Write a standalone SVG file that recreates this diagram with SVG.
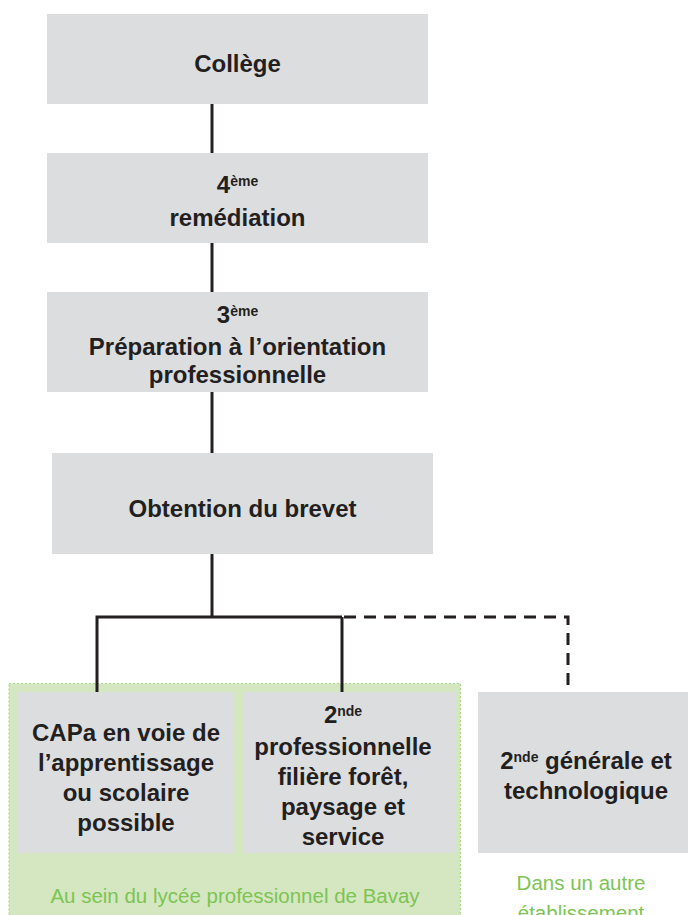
<svg xmlns="http://www.w3.org/2000/svg" width="688" height="915" viewBox="0 0 688 915">
<style>
.box{fill:#dcdddf}
.t{font-family:"Liberation Sans",Arial,sans-serif;font-weight:bold;font-size:24px;fill:#231f20;text-anchor:middle}
.sup{font-size:14px}
.g{font-family:"Liberation Sans",Arial,sans-serif;font-size:20.5px;fill:#7cc453;text-anchor:middle}
.ln{stroke:#231f20;stroke-width:3;fill:none}
.dash{stroke:#231f20;stroke-width:3;fill:none;stroke-dasharray:12 8}
</style>
<rect width="688" height="915" fill="#ffffff"/>
<g id="zone-lycee">
<rect x="9" y="683.5" width="451.5" height="240" fill="#d4e7c1" stroke="#a9d68c" stroke-width="1.2" stroke-dasharray="2 2"/>
<text class="g" x="235" y="903">Au sein du lycée professionnel de Bavay</text>
</g>
<g id="zone-autre">
<text class="g" x="581" y="890">Dans un autre</text>
<text class="g" x="581" y="920">établissement</text>
</g>
<g id="connectors">
<line class="ln" x1="212" y1="104" x2="212" y2="153"/>
<line class="ln" x1="212" y1="243" x2="212" y2="292"/>
<line class="ln" x1="212" y1="392" x2="212" y2="453"/>
<line class="ln" x1="212" y1="554" x2="212" y2="617"/>
<polyline class="ln" points="97,692 97,617 342,617"/>
<line class="ln" x1="342" y1="617" x2="342" y2="692"/>
<polyline class="dash" points="344,617 568,617 568,692"/>
</g>
<g id="college">
<rect class="box" x="47" y="14" width="381" height="90"/>
<text class="t" x="237.5" y="72">Collège</text>
</g>
<g id="quatrieme">
<rect class="box" x="47" y="153" width="381" height="90"/>
<text class="t" x="237.5" y="193">4<tspan class="sup" dy="-7">ème</tspan></text>
<text class="t" x="237.5" y="226">remédiation</text>
</g>
<g id="troisieme">
<rect class="box" x="47" y="292" width="381" height="100"/>
<text class="t" x="237.5" y="323">3<tspan class="sup" dy="-7">ème</tspan></text>
<text class="t" x="237.5" y="355">Préparation à l’orientation</text>
<text class="t" x="237.5" y="383">professionnelle</text>
</g>
<g id="brevet">
<rect class="box" x="52" y="453" width="381" height="101"/>
<text class="t" x="242.5" y="517">Obtention du brevet</text>
</g>
<g id="capa">
<rect class="box" x="17.5" y="692" width="215.5" height="161"/>
<text class="t" x="126" y="741">CAPa en voie de</text>
<text class="t" x="126" y="771">l’apprentissage</text>
<text class="t" x="126" y="801">ou scolaire</text>
<text class="t" x="126" y="831">possible</text>
</g>
<g id="seconde-pro">
<rect class="box" x="243.5" y="692" width="211.5" height="161"/>
<text class="t" x="343" y="723">2<tspan class="sup" dy="-7">nde</tspan></text>
<text class="t" x="343" y="755">professionnelle</text>
<text class="t" x="343" y="785">filière forêt,</text>
<text class="t" x="343" y="815">paysage et</text>
<text class="t" x="343" y="845">service</text>
</g>
<g id="seconde-gt">
<rect class="box" x="478" y="692" width="215" height="161"/>
<text class="t" x="586" y="769">2<tspan class="sup" dy="-7">nde</tspan><tspan dy="7"> générale et</tspan></text>
<text class="t" x="586" y="799">technologique</text>
</g>
</svg>
